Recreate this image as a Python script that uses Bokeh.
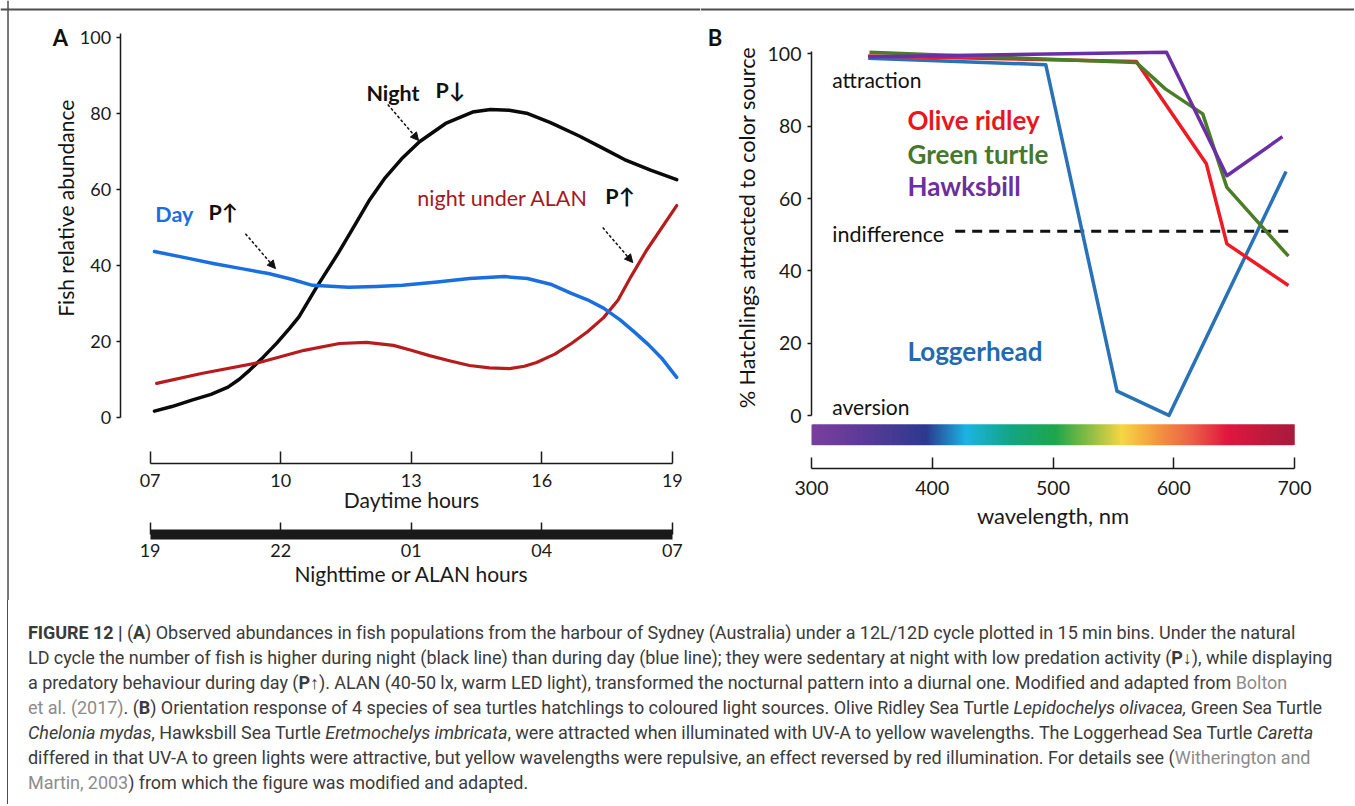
import numpy as np
from bokeh.plotting import figure
from bokeh.models import (LinearAxis, Label, Arrow, NormalHead, Div, Range1d,
                          FixedTicker, Span)
from bokeh.layouts import row, column
from bokeh.embed import file_html
from bokeh.resources import INLINE

# ---------------- Panel A data ----------------
night_hours = [7.1, 7.5, 7.96, 8.4, 8.79, 9.05, 9.29, 9.6, 9.91, 10.2, 10.42, 10.83,
               11.33, 11.7, 12.05, 12.4, 12.78, 13.19, 13.79, 14.41, 14.82, 15.25,
               15.65, 16.2, 16.86, 17.4, 17.9, 18.5, 19.1]
night_vals = [1.6, 2.8, 4.5, 6.0, 7.9, 10.0, 12.4, 15.8, 19.5, 23.3, 26.4, 34.3,
              43.3, 50.5, 57.3, 63.0, 68.0, 72.5, 77.3, 80.3, 81.0, 80.8,
              80.0, 77.5, 74.0, 70.8, 67.8, 65.0, 62.5]
day_hours = [7.1, 7.8, 8.48, 9.1, 9.72, 10.25, 10.73, 11.56, 12.2, 12.8, 13.6, 14.34,
             15.14, 15.67, 16.2, 16.68, 17.05, 17.42, 17.8, 18.13, 18.45, 18.75, 19.1]
day_vals = [43.6, 42.0, 40.4, 39.1, 37.8, 36.3, 34.7, 34.2, 34.4, 34.7, 35.6, 36.5,
            37.0, 36.5, 35.0, 32.6, 30.9, 28.7, 25.6, 22.4, 19.1, 15.6, 10.5]
alan_hours = [7.15, 8.18, 9.51, 10.54, 11.35, 11.97, 12.59, 13.0, 13.42, 13.9, 14.34,
              14.8, 15.26, 15.6, 15.88, 16.3, 16.68, 17.05, 17.42, 17.75, 18.05,
              18.4, 19.1]
alan_vals = [8.9, 11.5, 14.4, 17.6, 19.4, 19.7, 18.9, 17.6, 16.2, 14.8, 13.6,
             13.0, 12.8, 13.4, 14.4, 16.6, 19.4, 22.5, 26.2, 30.8, 37.0,
             43.8, 55.7]
hour_ticks = [7, 10, 13, 16, 19]
day_tick_labels = ["07", "10", "13", "16", "19"]
night_tick_labels = ["19", "22", "01", "04", "07"]
abund_ticks = [0, 20, 40, 60, 80, 100]

# ---------------- Panel B data ----------------
olive_wl = [347, 569, 627, 644, 695]
olive_pct = [99.4, 97.9, 69.6, 47.5, 36.0]
green_wl = [348, 569, 593, 624, 644, 695]
green_pct = [100.4, 97.6, 90.3, 83.4, 63.1, 44.1]
hawks_wl = [347, 594, 644, 690]
hawks_pct = [99.2, 100.4, 66.3, 77.1]
logger_wl = [347, 494, 553, 596, 693]
logger_pct = [98.8, 97.0, 6.8, 0.1, 67.5]
indifference_level = 51
indiff_wl = [419, 698]
wl_ticks = [300, 400, 500, 600, 700]
pct_ticks = [0, 20, 40, 60, 80, 100]
spec_wl = [300, 340, 395, 428, 465, 502, 530, 557, 585, 615, 644, 700]
spec_col = ["#7b3f9e", "#5e3b98", "#2c3a8e", "#1cb4e2", "#14a583", "#1ea64b",
            "#8bbd45", "#f6d645", "#f39a3f", "#ec5f48", "#e1173f", "#a61c3c"]

FONT = "Lato"
AX = "#1a1a1a"
FRAME = "#4d4d4d"


def style_axis(ax, size="18px", title_size="21px"):
    ax.axis_line_color = AX
    ax.axis_line_width = 1.5
    ax.major_tick_line_color = AX
    ax.major_tick_line_width = 1.5
    ax.minor_tick_line_color = None
    ax.major_label_text_font = FONT
    ax.major_label_text_font_size = size
    ax.major_label_text_color = AX
    ax.axis_label_text_font = FONT
    ax.axis_label_text_font_size = title_size
    ax.axis_label_text_font_style = "normal"
    ax.axis_label_text_color = AX


def bare_fig(w, h, xr, yr):
    p = figure(width=w, height=h, x_range=Range1d(*xr), y_range=Range1d(*yr),
               x_axis_type=None, y_axis_type=None, output_backend="svg",
               toolbar_location=None, min_border=0, min_border_left=0,
               min_border_right=0, min_border_top=0, min_border_bottom=0)
    p.outline_line_color = None
    p.title.visible = False
    p.background_fill_color = "white"
    p.border_fill_color = "white"
    return p


def lab(p, x, y, t, color="#111111", size="21.5px", style="normal", angle=0, align="left"):
    p.add_layout(Label(x=x, y=y, text=t, text_color=color, text_font=FONT,
                       text_font_size=size, text_font_style=style, angle=angle,
                       text_align=align, text_baseline="middle"))


# ---------------- Panel A ----------------
pA = bare_fig(700, 600, (3.5625, 19.647), (-48.24, 109.66))

pA.add_layout(Span(location=107.29, dimension="width", line_color=FRAME, line_width=2))
pA.add_layout(Span(location=3.735, dimension="height", line_color=FRAME, line_width=1.5))

ya = LinearAxis(fixed_location=6.3107, bounds=(0, 101),
                ticker=FixedTicker(ticks=abund_ticks, minor_ticks=[]))
style_axis(ya)
ya.major_tick_out = 4
ya.major_tick_in = 0
ya.major_label_standoff = 5
pA.add_layout(ya, "left")

xa = LinearAxis(fixed_location=-12.263, bounds=(7, 19),
                ticker=FixedTicker(ticks=hour_ticks, minor_ticks=[]),
                major_label_overrides=dict(zip(hour_ticks, day_tick_labels)),
                axis_label="Daytime hours")
style_axis(xa)
xa.major_tick_in = 12
xa.major_tick_out = 0
xa.major_label_standoff = 10
xa.axis_label_standoff = -3
pA.add_layout(xa, "below")

na = LinearAxis(fixed_location=-30.947, bounds=(7, 19),
                ticker=FixedTicker(ticks=hour_ticks, minor_ticks=[]),
                major_label_overrides=dict(zip(hour_ticks, night_tick_labels)),
                axis_label="Nighttime or ALAN hours")
style_axis(na)
na.axis_line_width = 10
na.axis_line_cap = "butt"
na.major_tick_in = 12
na.major_tick_out = 0
na.major_label_standoff = 9
na.axis_label_standoff = 1
pA.add_layout(na, "below")

pA.line(night_hours, night_vals, line_color="#0a0a0a", line_width=3.5, line_join="round", line_cap="round")
pA.line(alan_hours, alan_vals, line_color="#b71c1c", line_width=3.2, line_join="round", line_cap="round")
pA.line(day_hours, day_vals, line_color="#1a6fe0", line_width=3.5, line_join="round", line_cap="round")

lab(pA, 4.94, 99.8, "A", size="22px", style="bold", align="center")
lab(pA, 5.055, 55.0, "Fish relative abundance", size="21px", angle=np.pi / 2, align="center")
lab(pA, 11.97, 85.4, "Night", style="bold")
lab(pA, 13.56, 86.0, "P\u2193", style="bold")
lab(pA, 7.12, 53.5, "Day", color="#1a6fe0", style="bold")
lab(pA, 8.34, 54.0, "P\u2191", style="bold")
lab(pA, 13.14, 57.6, "night under ALAN", color="#a3191f")
lab(pA, 17.46, 58.3, "P\u2191", style="bold")

for (x0, y0, x1, y1) in [(12.46, 82.3, 13.17, 72.8), (9.19, 48.3, 9.88, 39.1),
                         (17.40, 49.9, 18.09, 40.7)]:
    pA.add_layout(Arrow(end=NormalHead(size=8, fill_color="#111111", line_color="#111111"),
                        x_start=x0, y_start=y0, x_end=x1, y_end=y1,
                        line_dash="3 2", line_width=1.5, line_color="#111111"))

# ---------------- Panel B ----------------
pB = bare_fig(654, 600, (208.07, 749.69), (-51.02, 114.72))
pB.add_layout(Span(location=112.24, dimension="width", line_color=FRAME, line_width=2))

yb = LinearAxis(fixed_location=300, bounds=(0, 100.5),
                ticker=FixedTicker(ticks=pct_ticks, minor_ticks=[]))
style_axis(yb, "19.5px")
yb.major_tick_out = 4
yb.major_tick_in = 0
yb.major_label_standoff = 6
pB.add_layout(yb, "left")

xb = LinearAxis(fixed_location=-14.64, bounds=(300, 700),
                ticker=FixedTicker(ticks=wl_ticks, minor_ticks=[]),
                axis_label="wavelength, nm")
style_axis(xb, "19.5px", "22px")
xb.major_tick_in = 11
xb.major_tick_out = 0
xb.major_label_standoff = 12
xb.axis_label_standoff = 4
pB.add_layout(xb, "below")

# spectrum bar
wl = np.arange(300, 700, 1.0)
def hex2rgb(h):
    return [int(h[i:i + 2], 16) for i in (1, 3, 5)]
rgb = np.array([hex2rgb(c) for c in spec_col], dtype=float)
cols = []
for w in wl + 0.5:
    r, g, b = (int(round(np.interp(w, spec_wl, rgb[:, k]))) for k in range(3))
    cols.append("#%02x%02x%02x" % (r, g, b))
pB.quad(left=wl, right=np.minimum(wl + 2.0, 700), bottom=-8.1, top=-2.4,
        fill_color=cols, line_color=None)

pB.segment(x0=[indiff_wl[0]], x1=[indiff_wl[1]], y0=[indifference_level], y1=[indifference_level],
           line_color="#111111", line_width=3, line_dash="10 7")

pB.line(logger_wl, logger_pct, line_color="#2a72b8", line_width=3.5, line_join="round")
pB.line(olive_wl, olive_pct, line_color="#ef1b24", line_width=3.5, line_join="round")
pB.line(green_wl, green_pct, line_color="#4b7d27", line_width=3.5, line_join="round")
pB.line(hawks_wl, hawks_pct, line_color="#6a2fa6", line_width=3.5, line_join="round")

lab(pB, 220.1, 104.4, "B", size="22px", style="bold", align="center")
lab(pB, 246.2, 52.0, "% Hatchlings attracted to color source", size="21.7px",
    angle=np.pi / 2, align="center")
lab(pB, 317.2, 92.9, "attraction", size="21px")
lab(pB, 317.2, 50.3, "indifference", size="21.5px")
lab(pB, 317.2, 2.6, "aversion", size="21px")
lab(pB, 379.5, 81.6, "Olive ridley", color="#e8161e", size="26px", style="bold")
lab(pB, 379.5, 72.4, "Green turtle", color="#46782a", size="26px", style="bold")
lab(pB, 379.5, 63.6, "Hawksbill", color="#6b2f9e", size="26px", style="bold")
lab(pB, 379.5, 17.8, "Loggerhead", color="#2469b0", size="26px", style="bold")

# ---------------- Caption ----------------
G = '<span style="color:#8c8c8c">%s</span>'
cap_lines = [
    "<b>FIGURE 12 |</b> (<b>A</b>) Observed abundances in fish populations from the harbour of Sydney (Australia) under a 12L/12D cycle plotted in 15 min bins. Under the natural",
    "LD cycle the number of fish is higher during night (black line) than during day (blue line); they were sedentary at night with low predation activity (<b>P\u2193</b>), while displaying",
    "a predatory behaviour during day (<b>P\u2191</b>). ALAN (40-50 lx, warm LED light), transformed the nocturnal pattern into a diurnal one. Modified and adapted from " + G % "Bolton",
    G % "et al. (2017)" + ". (<b>B</b>) Orientation response of 4 species of sea turtles hatchlings to coloured light sources. Olive Ridley Sea Turtle <i>Lepidochelys olivacea,</i> Green Sea Turtle",
    "<i>Chelonia mydas</i>, Hawksbill Sea Turtle <i>Eretmochelys imbricata</i>, were attracted when illuminated with UV-A to yellow wavelengths. The Loggerhead Sea Turtle <i>Caretta</i>",
    "differed in that UV-A to green lights were attractive, but yellow wavelengths were repulsive, an effect reversed by red illumination. For details see (" + G % "Witherington and",
    G % "Martin, 2003" + ") from which the figure was modified and adapted.",
]
cap_html = ('<div style="box-sizing:border-box;height:204px;margin:0 0 0 7px;'
            'border-left:1.5px solid ' + FRAME + ';padding:20px 0 0 20px;'
            'font-family:Roboto,sans-serif;font-size:18px;letter-spacing:-0.05px;'
            'color:#3b3b3b;line-height:25px;white-space:nowrap;">'
            + "<br>".join(cap_lines) + "</div>")
cap = Div(text=cap_html, width=1354, height=204, margin=(0, 0, 0, 0))

layout = column(row(pA, pB), cap)

open("out.html", "w").write(file_html(layout, INLINE))
